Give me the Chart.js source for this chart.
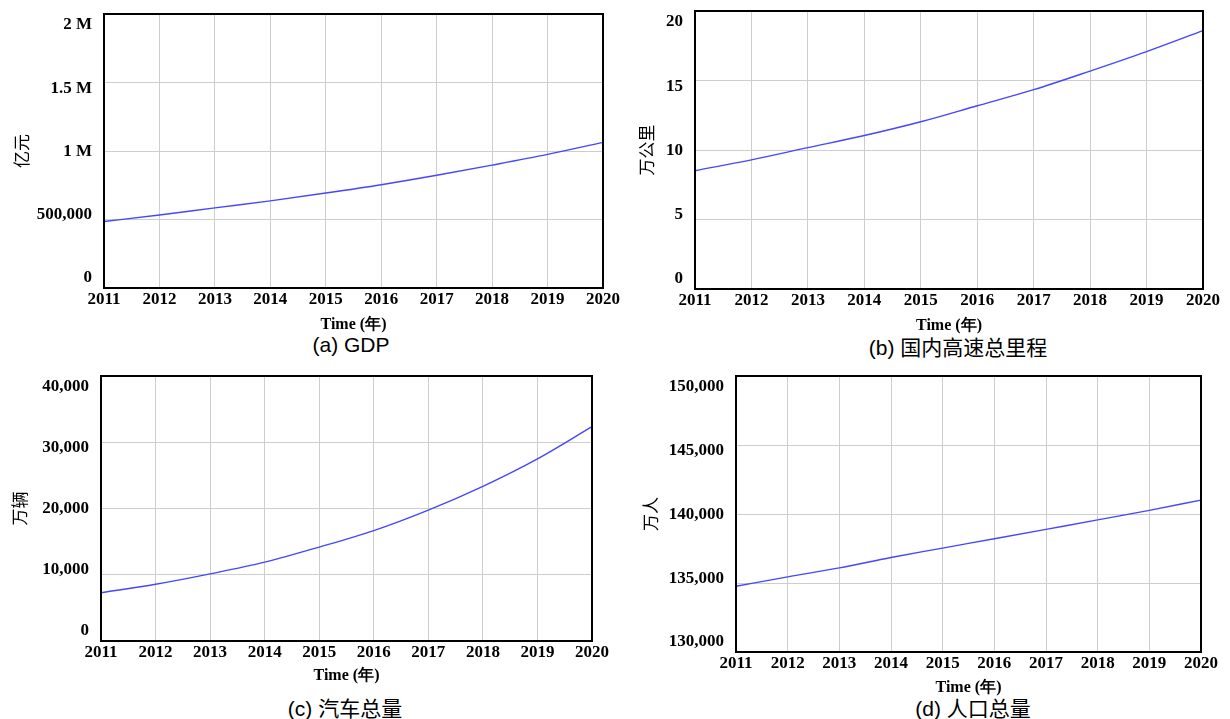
<!DOCTYPE html>
<html lang="zh">
<head>
  <meta charset="UTF-8">
  <title>系统动力学仿真结果</title>
  <script src="https://cdn.jsdelivr.net/npm/chart.js"></script>
  <style>
    body {
      margin: 0;
      background: #fff;
      width: 1230px;
      height: 719px;
      position: relative;
      overflow: hidden;
    }
    .panel {
      position: absolute;
    }
    .cap {
      position: absolute;
      transform: translateX(-50%);
      white-space: nowrap;
      font-family: "Liberation Sans", "Noto Sans CJK SC", sans-serif;
      font-size: 21px;
      line-height: 24px;
      color: #000;
    }
  </style>
</head>
<body>
  <div class="cap" style="left:351px; top:333px">(a) GDP</div>
  <div class="cap" style="left:958px; top:336px">(b) 国内高速总里程</div>
  <div class="cap" style="left:345px; top:697px">(c) 汽车总量</div>
  <div class="cap" style="left:973px; top:697px">(d) 人口总量</div>

  <script>
    // data
    const years = ['2011', '2012', '2013', '2014', '2015', '2016', '2017', '2018', '2019', '2020'];
    const gdp = [485000, 533000, 585000, 636000, 693000, 754000, 823000, 897000, 975000, 1063000];
    const highway = [8.51, 9.29, 10.17, 11.04, 12.03, 13.18, 14.34, 15.68, 17.08, 18.59];
    const cars = [7290, 8560, 10130, 11900, 14180, 16660, 19750, 23340, 27490, 32350];
    const population = [134760, 135440, 136100, 136850, 137530, 138210, 138890, 139570, 140260, 141010];

    const gdpTicks = ['0', '500,000', '1 M', '1.5 M', '2 M'];
    const highwayTicks = ['0', '5', '10', '15', '20'];
    const carTicks = ['0', '10,000', '20,000', '30,000', '40,000'];
    const popTicks = ['130,000', '135,000', '140,000', '145,000', '150,000'];

    const serif = '"Liberation Serif", "Times New Roman", serif';
    const cjk = '"Noto Sans CJK SC", "Noto Sans", sans-serif';

    // draws the y tick labels (spread inside the frame, like the original) and the black frame
    const frame = {
      id: 'frame',
      afterDraw(chart, args, opts) {
        const { ctx, chartArea: a } = chart;
        const y = chart.scales.y;
        ctx.save();
        ctx.font = 'bold 17px ' + serif;
        ctx.fillStyle = '#000';
        ctx.textAlign = 'right';
        ctx.textBaseline = 'middle';
        y.ticks.forEach((t, i) => {
          const py = y.getPixelForValue(t.value);
          const f = (py - a.top) / (a.bottom - a.top);
          ctx.fillText(opts.labels[i], a.left - 12, py + 11 - 21 * f);
        });
        ctx.lineWidth = 2;
        ctx.strokeStyle = '#000';
        ctx.strokeRect(a.left, a.top, a.right - a.left, a.bottom - a.top);
        ctx.restore();
      }
    };

    function makePanel(p) {
      const div = document.createElement('div');
      div.className = 'panel';
      div.style.left = p.x + 'px';
      div.style.top = p.y + 'px';
      const cv = document.createElement('canvas');
      cv.width = p.w;
      cv.height = p.h;
      div.appendChild(cv);
      document.body.appendChild(div);

      new Chart(cv, {
        type: 'line',
        data: {
          labels: years,
          datasets: [{
            data: p.values,
            borderColor: '#4646ff',
            borderWidth: 1.4,
            pointRadius: 0,
            cubicInterpolationMode: 'monotone',
            fill: false
          }]
        },
        options: {
          responsive: false,
          animation: false,
          layout: {
            padding: {
              left: p.padL,
              top: p.plot.t - p.y,
              right: p.x + p.w - p.plot.r,
              bottom: p.y + p.h - (p.plot.b + p.xH)
            }
          },
          plugins: {
            legend: { display: false },
            tooltip: { enabled: false },
            frame: { labels: p.ticks }
          },
          scales: {
            x: {
              offset: false,
              grid: { color: '#cdcdcd', lineWidth: 1, drawTicks: false },
              border: { display: false },
              ticks: {
                color: '#000',
                font: { family: serif, size: 17, weight: 'bold' },
                padding: 1,
                maxRotation: 0,
                autoSkip: false
              },
              title: {
                display: true,
                text: 'Time (年)',
                color: '#000',
                font: { family: serif, size: 16, weight: 'bold', lineHeight: 1.2 },
                padding: 0
              },
              afterFit: s => { s.height = p.xH; }
            },
            y: {
              min: p.min,
              max: p.max,
              grid: { color: '#cdcdcd', lineWidth: 1, drawTicks: false },
              border: { display: false },
              ticks: { display: false, stepSize: p.step },
              title: {
                display: true,
                text: p.yTitle,
                color: '#000',
                font: { family: cjk, size: 17, lineHeight: 1.2 },
                padding: 0
              },
              afterFit: s => { s.width = p.plot.l - p.x - p.padL; }
            }
          }
        },
        plugins: [frame]
      });
    }

    makePanel({ x: 0, y: 0, w: 640, h: 360, padL: 11, xH: 46,
      plot: { l: 104, r: 603, t: 14, b: 288 },
      values: gdp, min: 0, max: 2000000, step: 500000, ticks: gdpTicks, yTitle: '亿元' });
    makePanel({ x: 615, y: 0, w: 615, h: 360, padL: 21, xH: 46,
      plot: { l: 695, r: 1203, t: 11, b: 289 },
      values: highway, min: 0, max: 20, step: 5, ticks: highwayTicks, yTitle: '万公里' });
    makePanel({ x: 0, y: 360, w: 640, h: 359, padL: 9, xH: 44,
      plot: { l: 101, r: 592, t: 376, b: 641 },
      values: cars, min: 0, max: 40000, step: 10000, ticks: carTicks, yTitle: '万辆' });
    makePanel({ x: 615, y: 360, w: 615, h: 359, padL: 25, xH: 45,
      plot: { l: 736, r: 1201, t: 376, b: 652 },
      values: population, min: 130000, max: 150000, step: 5000, ticks: popTicks, yTitle: '万人' });
  </script>
</body>
</html>
